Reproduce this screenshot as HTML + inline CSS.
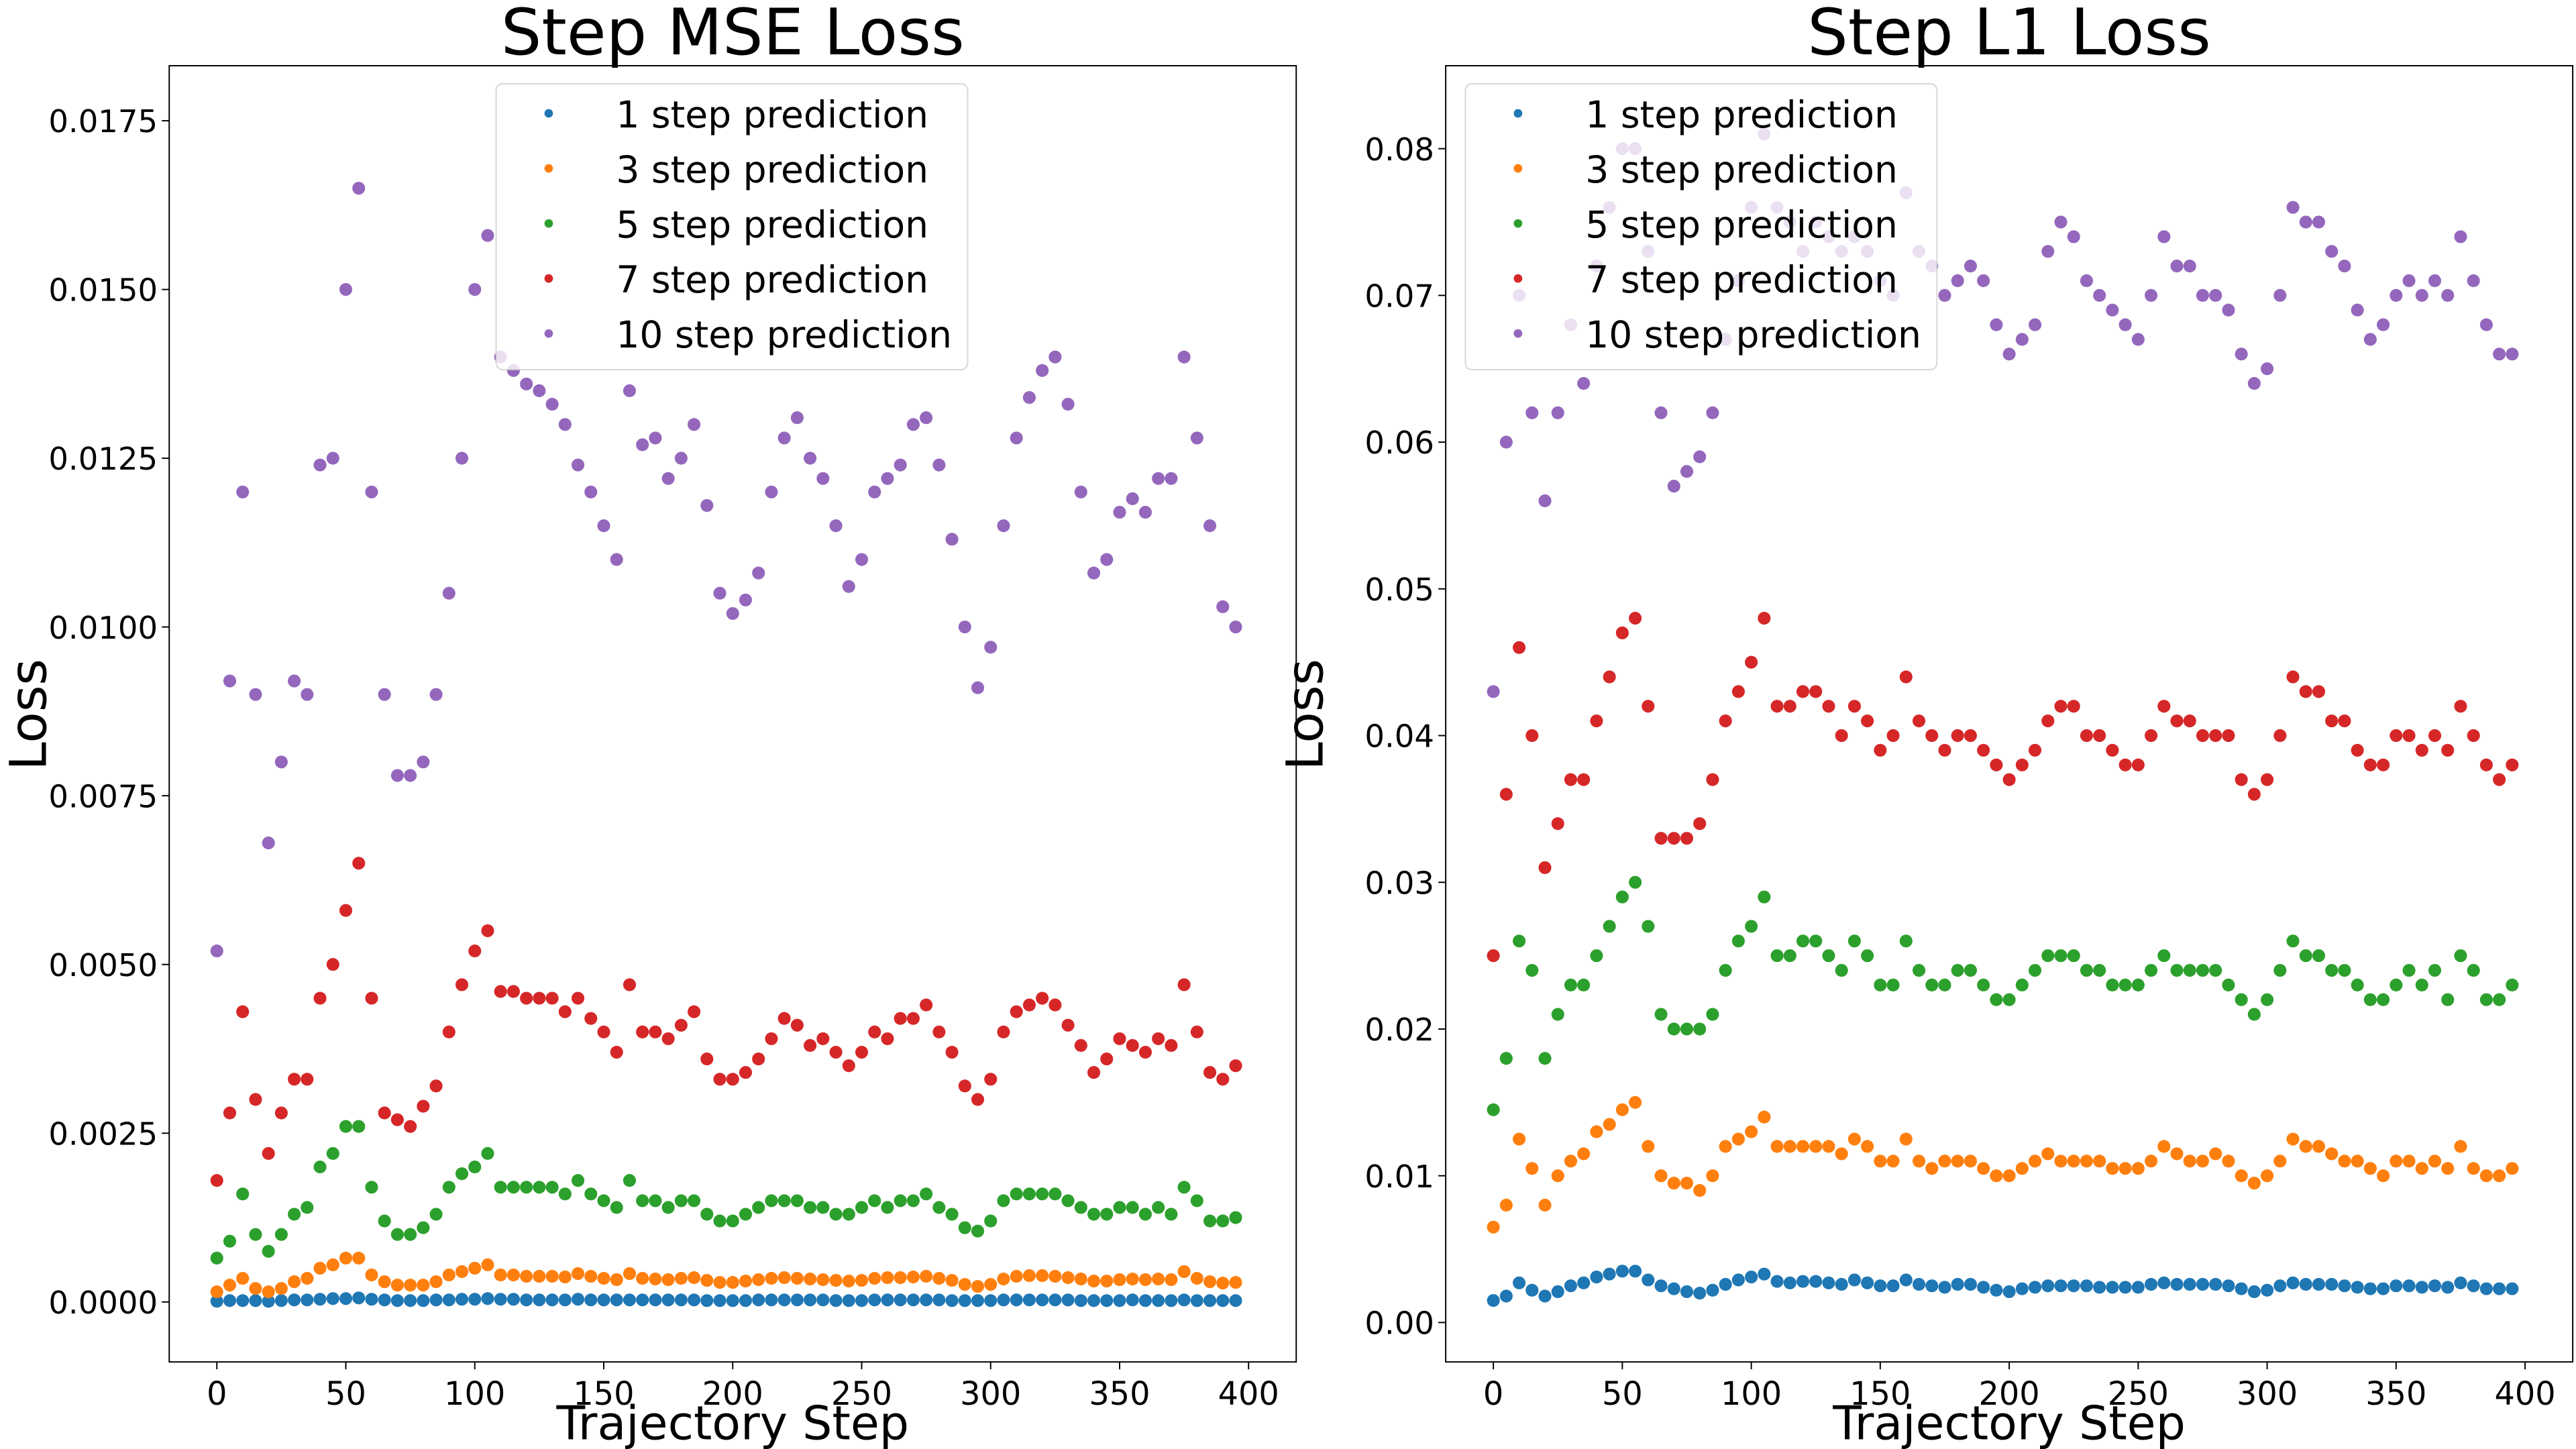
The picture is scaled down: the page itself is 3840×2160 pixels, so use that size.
<!DOCTYPE html>
<html><head><meta charset="utf-8"><style>
html,body{margin:0;padding:0;background:#fff}
svg{display:block}
text{font-family:"DejaVu Sans","Liberation Sans",sans-serif;fill:#000}
</style></head><body>
<svg id="chart" width="3840" height="2160" viewBox="0 0 1568 882" xmlns="http://www.w3.org/2000/svg">
<rect width="1568" height="882" fill="#fff"/>
<g id="left"></g>
<g id="right"></g>
</svg>
<script>
// Steps sampled every 5
const steps = Array.from({length:80},(_,i)=>i*5);
const seriesNames = ["1 step prediction","3 step prediction","5 step prediction","7 step prediction","10 step prediction"];
const colors = ["#1f77b4","#ff7f0e","#2ca02c","#d62728","#9467bd"];
const xTicks = [0,50,100,150,200,250,300,350,400];
const mseTicks = [0,0.0025,0.005,0.0075,0.01,0.0125,0.015,0.0175];
const mseTickLabels = ["0.0000","0.0025","0.0050","0.0075","0.0100","0.0125","0.0150","0.0175"];
const l1Ticks = [0,0.01,0.02,0.03,0.04,0.05,0.06,0.07,0.08];
const l1TickLabels = ["0.00","0.01","0.02","0.03","0.04","0.05","0.06","0.07","0.08"];
// MSE values in units of 1e-4
const mse1 = [0.1,0.2,0.2,0.2,0.1,0.2,0.3,0.3,0.4,0.5,0.5,0.6,0.4,0.3,0.2,0.2,0.2,0.3,0.3,0.4,0.4,0.5,0.4,0.4,0.3,0.3,0.3,0.3,0.4,0.3,0.3,0.3,0.3,0.3,0.3,0.3,0.3,0.3,0.2,0.2,0.2,0.2,0.3,0.3,0.3,0.3,0.3,0.3,0.2,0.2,0.2,0.3,0.3,0.3,0.3,0.3,0.3,0.2,0.2,0.2,0.2,0.3,0.3,0.3,0.3,0.3,0.3,0.2,0.2,0.2,0.2,0.3,0.2,0.2,0.2,0.3,0.2,0.2,0.2,0.2];
const mse3 = [1.5,2.5,3.5,2,1.5,2,3,3.5,5,5.5,6.5,6.5,4,3,2.5,2.5,2.5,3,4,4.5,5,5.5,4,4,3.8,3.8,3.8,3.7,4.2,3.8,3.5,3.3,4.2,3.5,3.4,3.3,3.5,3.6,3.2,2.9,2.9,3.1,3.3,3.5,3.6,3.5,3.4,3.3,3.2,3.1,3.2,3.5,3.6,3.6,3.7,3.8,3.5,3.2,2.6,2.3,2.6,3.4,3.8,3.9,3.9,3.8,3.6,3.4,3.1,3.1,3.3,3.4,3.3,3.4,3.3,4.5,3.5,3,2.8,2.9];
const mse5 = [6.5,9,16,10,7.5,10,13,14,20,22,26,26,17,12,10,10,11,13,17,19,20,22,17,17,17,17,17,16,18,16,15,14,18,15,15,14,15,15,13,12,12,13,14,15,15,15,14,14,13,13,14,15,14,15,15,16,14,13,11,10.5,12,15,16,16,16,16,15,14,13,13,14,14,13,14,13,17,15,12,12,12.5];
const mse7 = [18,28,43,30,22,28,33,33,45,50,58,65,45,28,27,26,29,32,40,47,52,55,46,46,45,45,45,43,45,42,40,37,47,40,40,39,41,43,36,33,33,34,36,39,42,41,38,39,37,35,37,40,39,42,42,44,40,37,32,30,33,40,43,44,45,44,41,38,34,36,39,38,37,39,38,47,40,34,33,35];
const mse10 = [52,92,120,90,68,80,92,90,124,125,150,165,120,90,78,78,80,90,105,125,150,158,140,138,136,135,133,130,124,120,115,110,135,127,128,122,125,130,118,105,102,104,108,120,128,131,125,122,115,106,110,120,122,124,130,131,124,113,100,91,97,115,128,134,138,140,133,120,108,110,117,119,117,122,122,140,128,115,103,100];
// L1 values in units of 1e-3
const l1a = [1.5,1.8,2.7,2.2,1.8,2.1,2.5,2.7,3.1,3.3,3.5,3.5,2.9,2.5,2.3,2.1,2.0,2.2,2.6,2.9,3.1,3.3,2.8,2.7,2.8,2.8,2.7,2.6,2.9,2.7,2.5,2.5,2.9,2.6,2.5,2.4,2.6,2.6,2.4,2.2,2.1,2.3,2.4,2.5,2.5,2.5,2.5,2.4,2.4,2.4,2.4,2.6,2.7,2.6,2.6,2.6,2.6,2.5,2.3,2.1,2.2,2.5,2.7,2.6,2.6,2.6,2.5,2.4,2.3,2.3,2.5,2.5,2.4,2.5,2.4,2.7,2.5,2.3,2.3,2.3];
const l1b = [6.5,8,12.5,10.5,8,10,11,11.5,13,13.5,14.5,15,12,10,9.5,9.5,9,10,12,12.5,13,14,12,12,12,12,12,11.5,12.5,12,11,11,12.5,11,10.5,11,11,11,10.5,10,10,10.5,11,11.5,11,11,11,11,10.5,10.5,10.5,11,12,11.5,11,11,11.5,11,10,9.5,10,11,12.5,12,12,11.5,11,11,10.5,10,11,11,10.5,11,10.5,12,10.5,10,10,10.5];
const l1c = [14.5,18,26,24,18,21,23,23,25,27,29,30,27,21,20,20,20,21,24,26,27,29,25,25,26,26,25,24,26,25,23,23,26,24,23,23,24,24,23,22,22,23,24,25,25,25,24,24,23,23,23,24,25,24,24,24,24,23,22,21,22,24,26,25,25,24,24,23,22,22,23,24,23,24,22,25,24,22,22,23];
const l1d = [25,36,46,40,31,34,37,37,41,44,47,48,42,33,33,33,34,37,41,43,45,48,42,42,43,43,42,40,42,41,39,40,44,41,40,39,40,40,39,38,37,38,39,41,42,42,40,40,39,38,38,40,42,41,41,40,40,40,37,36,37,40,44,43,43,41,41,39,38,38,40,40,39,40,39,42,40,38,37,38];
const l1e = [43,60,70,62,56,62,68,64,72,76,80,80,73,62,57,58,59,62,67,71,76,81,76,75,73,75,74,73,74,73,71,70,77,73,72,70,71,72,71,68,66,67,68,73,75,74,71,70,69,68,67,70,74,72,72,70,70,69,66,64,65,70,76,75,75,73,72,69,67,68,70,71,70,71,70,74,71,68,66,66];

const NS="http://www.w3.org/2000/svg";
function mk(parent,tag,attrs,txt){const e=document.createElementNS(NS,tag);for(const k in attrs)e.setAttribute(k,attrs[k]);if(txt!==undefined)e.textContent=txt;parent.appendChild(e);return e;}

function panel(g,cfg){
  const X=v=>cfg.x0+(v/400)*(cfg.x400-cfg.x0);
  const Y=v=>cfg.yz+(v/cfg.ymax)*(cfg.ytop-cfg.yz);
  const frame=mk(g,'rect',{x:cfg.L,y:40,width:cfg.R-cfg.L,height:789,fill:'none',stroke:'#000','stroke-width':0.8});
  
  
  cfg.series.forEach((arr,si)=>{
    const sg=mk(g,'g',{fill:colors[si]});
    
    
    arr.forEach((v,i)=>{
      const c=mk(sg,'circle',{cx:X(steps[i]),cy:Y(v*cfg.unit),r:3.9});
      
      
    });
  });
  xTicks.forEach(t=>{
    mk(g,'line',{x1:X(t),x2:X(t),y1:829,y2:833.5,stroke:'#000','stroke-width':0.8});
    const tx=mk(g,'text',{x:X(t),y:855,'font-size':19.5,'text-anchor':'middle'},String(t));
    
    
  });
  cfg.ticks.forEach((t,i)=>{
    mk(g,'line',{x1:cfg.L-4.5,x2:cfg.L,y1:Y(t),y2:Y(t),stroke:'#000','stroke-width':0.8});
    const tx=mk(g,'text',{x:cfg.L-7,y:Y(t)+7,'font-size':19,'text-anchor':'end'},cfg.labels[i]);
    
    
  });
  const mid=(cfg.L+cfg.R)/2;
  const title=mk(g,'text',{x:mid,y:33,'font-size':39,'text-anchor':'middle'},cfg.title);
  
  
  const xl=mk(g,'text',{x:mid,y:876,'font-size':28.5,'text-anchor':'middle'},'Trajectory Step');
  
  
  const yl=mk(g,'text',{x:0,y:0,'font-size':31,'text-anchor':'middle',transform:'translate('+(cfg.L-75)+',435) rotate(-90)'},'Loss');
  
  
  const lg=mk(g,'g',{});
  
  
  mk(lg,'rect',{x:cfg.lx,y:51,width:287,height:174,rx:4,fill:'#fff','fill-opacity':0.8,stroke:'#ccc','stroke-opacity':0.8,'stroke-width':0.8});
  seriesNames.forEach((n,i)=>{
    const yy=69+i*33.5;
    const en=mk(lg,'g',{});
    
    
    mk(en,'circle',{cx:cfg.lx+32,cy:yy,r:2.6,fill:colors[i]});
    mk(en,'text',{x:cfg.lx+73,y:yy+8.5,'font-size':22.5},n);
  });
}
panel(document.getElementById('left'),{id:'mse',L:103,R:789,x0:132,x400:760,yz:792.5,ytop:73.5,ymax:0.0175,unit:1e-4,
  series:[mse1,mse3,mse5,mse7,mse10],ticks:mseTicks,labels:mseTickLabels,title:'Step MSE Loss',lx:302});
panel(document.getElementById('right'),{id:'l1',L:880,R:1566,x0:909,x400:1537,yz:805,ytop:90.5,ymax:0.08,unit:1e-3,
  series:[l1a,l1b,l1c,l1d,l1e],ticks:l1Ticks,labels:l1TickLabels,title:'Step L1 Loss',lx:892});
</script>
</body></html>
